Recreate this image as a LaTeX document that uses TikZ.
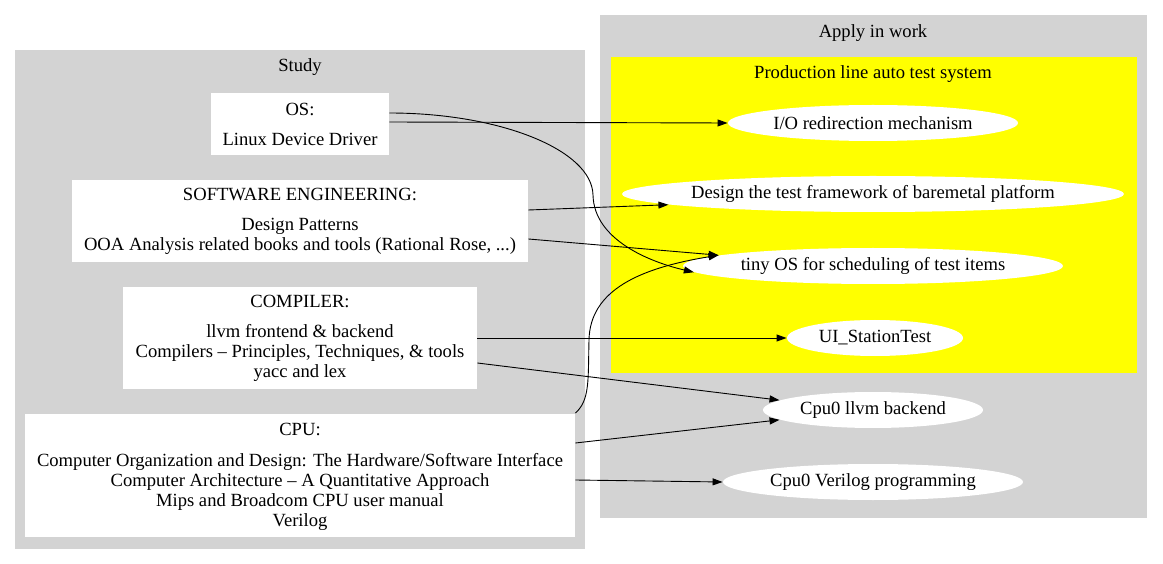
\documentclass[tikz,border=0pt]{standalone}
\usepackage{fontspec}
\setmainfont{Liberation Serif}
\usepackage{tikz}
\usetikzlibrary{positioning,shapes.geometric,arrows.meta}
\definecolor{gvgray}{HTML}{D3D3D3}
\definecolor{gvyellow}{HTML}{FFFF00}
\tikzset{
  topic/.style = {rectangle, fill=white, align=center, inner sep=0pt,
    font=\fontsize{18.6}{20}\selectfont},
  goal/.style = {ellipse, fill=white, inner sep=0pt, minimum height=36pt,
    font=\fontsize{18.6}{20}\selectfont},
  cluster/.style = {font=\fontsize{18.6}{20}\selectfont}
}

\begin{document}
\begin{tikzpicture}[x=1pt,y=-1pt,>={Triangle[length=10pt,width=7pt]},
  line width=0.9pt]
\useasboundingbox (0,0) rectangle (1163,564);
% clusters
\fill[gvgray] (15,50) rectangle (585,549);
\fill[gvgray] (600,15) rectangle (1147,518);
\fill[gvyellow] (611,57) rectangle (1137,373);
\node[cluster] (study) at (300,67) {Study};
\node[cluster] (apply) at (873,33) {Apply in work};
\node[cluster] (prodline) at (873,74) {Production line auto test system};

% study topics
\node[topic, minimum width=178pt, minimum height=62pt] (os) at (300,124)
  {OS:\\[10pt]Linux Device Driver};
\node[topic, minimum width=456pt, minimum height=82pt] (swe) at (300,221)
  {SOFTWARE ENGINEERING:\\[10pt]Design Patterns\\OOA Analysis related books and tools (Rational Rose, ...)};
\node[topic, minimum width=354pt, minimum height=101pt] (compiler) at (300,338)
  {COMPILER:\\[10pt]llvm frontend \& backend\\Compilers -- Principles, Techniques, \& tools\\yacc and lex};
\node[topic, minimum width=550pt, minimum height=123pt] (cpu) at (300,475)
  {CPU:\\[11pt]Computer Organization and Design: The Hardware/Software Interface\\Computer Architecture -- A Quantitative Approach\\Mips and Broadcom CPU user manual\\Verilog\vspace*{-4pt}};

% work items
\node[goal, minimum width=290pt] (ioredir) at (873,123) {I/O redirection mechanism};
\node[goal, minimum width=502pt, inner xsep=-7pt] (testfw) at (873,194) {Design the test framework of baremetal platform};
\node[goal, minimum width=380pt] (tinyos) at (873,266) {tiny OS for scheduling of test items};
\node[goal, minimum width=176pt] (uistation) at (875,338) {UI\_StationTest};
\node[goal, minimum width=220pt] (llvmbackend) at (873,410) {Cpu0 llvm backend};
\node[goal, minimum width=300pt] (verilog) at (873,482) {Cpu0 Verilog programming};

% links
\draw[->] ([yshift=2pt]os.east) -- (ioredir.180);
\draw[->] ([yshift=11pt]os.east) .. controls (500,113) and (592,150) .. (593,195)
  .. controls (594,240) and (650,262) .. (tinyos.182);
\draw[->] ([yshift=11pt]swe.east) -- (testfw.183);
\draw[->] ([yshift=-18pt]swe.east) -- (tinyos.176);
\draw[->] (cpu.north east) .. controls (590,400) and (588,380) .. (589,340)
  .. controls (590,290) and (640,268) .. (tinyos.176);
\draw[->] (compiler.east) -- (uistation.west);
\draw[->] ([yshift=-25pt]compiler.east) -- (llvmbackend.174);
\draw[->] ([yshift=32pt]cpu.east) -- (llvmbackend.186);
\draw[->] ([yshift=-5pt]cpu.east) -- (verilog.west);
\end{tikzpicture}
\end{document}
